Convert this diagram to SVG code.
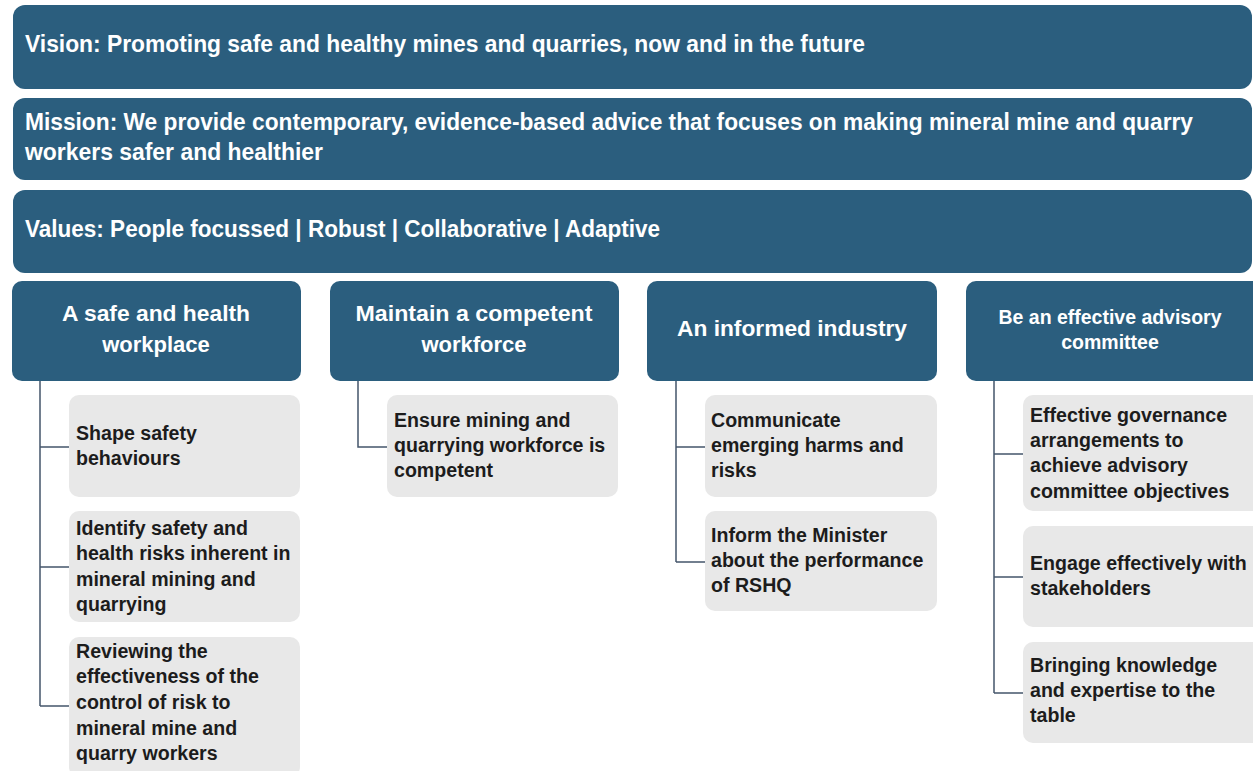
<svg xmlns="http://www.w3.org/2000/svg" width="1253" height="771" viewBox="0 0 1253 771">
<style>
.band{fill:#2b5e7e}
.hdr{fill:#2b5e7e}
.box{fill:#e8e8e8}
.bt{font-family:"Liberation Sans",Arial,sans-serif;font-weight:bold;font-size:23px;fill:#ffffff}
.ht{font-family:"Liberation Sans",Arial,sans-serif;font-weight:bold;font-size:22px;fill:#ffffff;text-anchor:middle}
.ht4{font-family:"Liberation Sans",Arial,sans-serif;font-weight:bold;font-size:19.5px;fill:#ffffff;text-anchor:middle}
.gt{font-family:"Liberation Sans",Arial,sans-serif;font-weight:bold;font-size:19.6px;fill:#1c1c1c}
.conn{fill:none;stroke:#44566b;stroke-width:1.5}
</style>
<rect width="1253" height="771" fill="#ffffff"/>
<g id="vision">
<rect class="band" x="13" y="5" width="1239" height="84" rx="12"/>
<text class="bt" x="25" y="52" textLength="840" lengthAdjust="spacingAndGlyphs">Vision: Promoting safe and healthy mines and quarries, now and in the future</text>
</g>
<g id="mission">
<rect class="band" x="13" y="98" width="1239" height="82" rx="12"/>
<text class="bt" x="25" y="130" textLength="1168" lengthAdjust="spacingAndGlyphs">Mission: We provide contemporary, evidence-based advice that focuses on making mineral mine and quarry</text>
<text class="bt" x="25" y="160" textLength="298" lengthAdjust="spacingAndGlyphs">workers safer and healthier</text>
</g>
<g id="values">
<rect class="band" x="13" y="190" width="1239" height="83" rx="12"/>
<text class="bt" x="25" y="237" textLength="635" lengthAdjust="spacingAndGlyphs">Values: People focussed | Robust | Collaborative | Adaptive</text>
</g>
<g id="connectors">
<path class="conn" d="M40 381V706M40 447H69M40 567H69M40 706H69"/>
<path class="conn" d="M358 381V447H387"/>
<path class="conn" d="M676 381V562M676 447H705M676 562H705"/>
<path class="conn" d="M994 381V693M994 454H1023M994 577H1023M994 693H1023"/>
</g>
<g id="goal1">
<rect class="hdr" x="12" y="281" width="289" height="100" rx="10"/>
<text class="ht" x="156" y="321" textLength="188" lengthAdjust="spacingAndGlyphs">A safe and health</text>
<text class="ht" x="156" y="352">workplace</text>
</g>
<g id="goal2">
<rect class="hdr" x="330" y="281" width="289" height="100" rx="10"/>
<text class="ht" x="474" y="321" textLength="237" lengthAdjust="spacingAndGlyphs">Maintain a competent</text>
<text class="ht" x="474" y="352">workforce</text>
</g>
<g id="goal3">
<rect class="hdr" x="647" y="281" width="290" height="100" rx="10"/>
<text class="ht" x="792" y="336" textLength="230" lengthAdjust="spacingAndGlyphs">An informed industry</text>
</g>
<g id="goal4">
<rect class="hdr" x="966" y="281" width="300" height="100" rx="10"/>
<text class="ht4" x="1110" y="324" textLength="223" lengthAdjust="spacingAndGlyphs">Be an effective advisory</text>
<text class="ht4" x="1110" y="349">committee</text>
</g>
<g id="item1a">
<rect class="box" x="69" y="395" width="231" height="102" rx="10"/>
<text class="gt" x="76" y="440">Shape safety</text>
<text class="gt" x="76" y="465">behaviours</text>
</g>
<g id="item1b">
<rect class="box" x="69" y="511" width="231" height="111" rx="10"/>
<text class="gt" x="76" y="535">Identify safety and</text>
<text class="gt" x="76" y="560">health risks inherent in</text>
<text class="gt" x="76" y="586">mineral mining and</text>
<text class="gt" x="76" y="611">quarrying</text>
</g>
<g id="item1c">
<rect class="box" x="69" y="637" width="231" height="140" rx="10"/>
<text class="gt" x="76" y="658">Reviewing the</text>
<text class="gt" x="76" y="683">effectiveness of the</text>
<text class="gt" x="76" y="709">control of risk to</text>
<text class="gt" x="76" y="735">mineral mine and</text>
<text class="gt" x="76" y="760">quarry workers</text>
</g>
<g id="item2a">
<rect class="box" x="387" y="395" width="231" height="102" rx="10"/>
<text class="gt" x="394" y="427">Ensure mining and</text>
<text class="gt" x="394" y="452">quarrying workforce is</text>
<text class="gt" x="394" y="477">competent</text>
</g>
<g id="item3a">
<rect class="box" x="705" y="395" width="232" height="102" rx="10"/>
<text class="gt" x="711" y="427">Communicate</text>
<text class="gt" x="711" y="452">emerging harms and</text>
<text class="gt" x="711" y="477">risks</text>
</g>
<g id="item3b">
<rect class="box" x="705" y="511" width="232" height="100" rx="10"/>
<text class="gt" x="711" y="542">Inform the Minister</text>
<text class="gt" x="711" y="567">about the performance</text>
<text class="gt" x="711" y="592">of RSHQ</text>
</g>
<g id="item4a">
<rect class="box" x="1023" y="395" width="240" height="116" rx="10"/>
<text class="gt" x="1030" y="422">Effective governance</text>
<text class="gt" x="1030" y="447">arrangements to</text>
<text class="gt" x="1030" y="472">achieve advisory</text>
<text class="gt" x="1030" y="498">committee objectives</text>
</g>
<g id="item4b">
<rect class="box" x="1023" y="526" width="240" height="101" rx="10"/>
<text class="gt" x="1030" y="570">Engage effectively with</text>
<text class="gt" x="1030" y="595">stakeholders</text>
</g>
<g id="item4c">
<rect class="box" x="1023" y="642" width="240" height="101" rx="10"/>
<text class="gt" x="1030" y="672">Bringing knowledge</text>
<text class="gt" x="1030" y="697">and expertise to the</text>
<text class="gt" x="1030" y="722">table</text>
</g>
</svg>
